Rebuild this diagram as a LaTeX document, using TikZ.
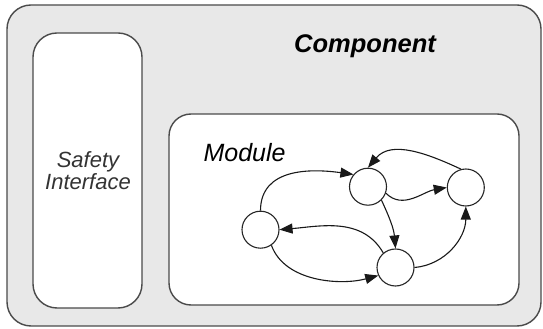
\documentclass[tikz,border=0pt]{standalone}
\usepackage{fontspec}
\setmainfont{Liberation Sans}
\usetikzlibrary{arrows.meta}
\definecolor{compfill}{HTML}{E8E8E8}
\definecolor{boxline}{HTML}{4A4A4A}
\definecolor{txtgray}{HTML}{333333}
\tikzset{
  boxstyle/.style={draw=boxline, line width=1.4pt, rounded corners=24pt},
  statenode/.style={circle, draw=black!85, line width=1.1pt, fill=white, minimum size=37pt, inner sep=0pt},
  edge/.style={draw=black!90, line width=1.1pt, -{Triangle[length=13pt,width=10pt]}},
}
\begin{document}
\begin{tikzpicture}[x=1pt,y=1pt]
\useasboundingbox (0,0) rectangle (543,329);
% outer component
\path[boxstyle, fill=compfill] (7,3) rectangle (541,324);
\node[anchor=base, font=\fontsize{25.5}{28}\selectfont\bfseries\itshape] (comp) at (365,276) {Component};
% safety interface
\path[boxstyle, fill=white] (33,21) rectangle (142,296);
\node[align=center, text=txtgray, font=\fontsize{22}{22}\selectfont\itshape] (safety) at (88,158) {Safety\\Interface};
% module
\path[boxstyle, rounded corners=22pt, fill=white] (169,24) rectangle (519,215);
\node[anchor=base west, font=\fontsize{25}{28}\selectfont\itshape] (mod) at (200,167) {Module};
% states
\node[statenode] (A) at (260.5,99.3) {};
\node[statenode] (B) at (368,142.3) {};
\node[statenode] (C) at (465.8,141.5) {};
\node[statenode] (D) at (395.5,61.5) {};
% transitions
\draw[edge] (A.north) to[out=90, in=172, looseness=1.1] (B.140);
\draw[edge] (C.105) to[out=155, in=50, looseness=1.0] (B.north);
\draw[edge] (B.-20) to[out=-45, in=190] (C.west);
\draw[edge] (B.-45) to[out=-65, in=95] (D.north);
\draw[edge] (D.130) to[out=120, in=5, looseness=1.0] (A.east);
\draw[edge] (A.-55) to[out=-70, in=195, looseness=0.9] (D.205);
\draw[edge] (D.east) to[out=5, in=-90, looseness=1.0] (C.south);
\end{tikzpicture}
\end{document}
